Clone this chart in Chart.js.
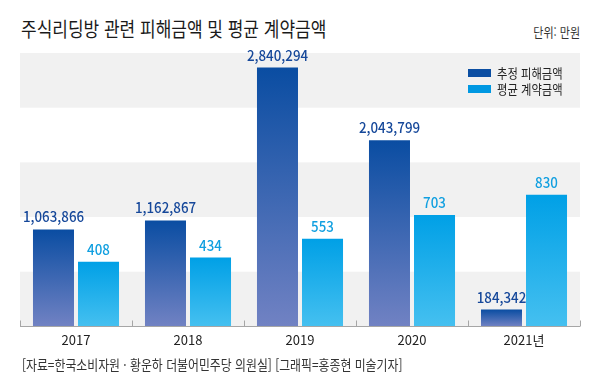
<!DOCTYPE html>
<html lang="ko">
<head>
<meta charset="utf-8">
<script src="https://cdn.jsdelivr.net/npm/chart.js@4.4.1/dist/chart.umd.min.js"></script>
<style>
	html, body { margin: 0; padding: 0; background: #fff; }
	body { width: 600px; height: 390px; position: relative; overflow: hidden; font-family: "Noto Sans CJK KR", "Noto Sans", sans-serif; color: #222; }
	#chart { position: absolute; left: 0; top: 0; }
	.squeeze { position: absolute; white-space: nowrap; transform: scaleX(0.85); }
	.title { left: 21px; top: 14px; font-size: 20px; font-weight: 400; transform-origin: left center; color: #1a1a1a; }
	.unit { right: 20px; top: 22px; font-size: 13px; transform-origin: right center; color: #333; }
	.source { left: 22px; top: 354px; font-size: 13.5px; transform: scaleX(0.88); transform-origin: left center; color: #333; }
	.legend { position: absolute; left: 468px; top: 65px; font-size: 13px; line-height: 16px; color: #222; }
	.legend div { display: flex; align-items: center; }
	.legend i { display: inline-block; width: 23px; height: 8px; margin-right: 6px; }
	.legend span { display: inline-block; transform: scaleX(0.87); transform-origin: left center; }
</style>
</head>
<body>
<div class="squeeze title">주식리딩방 관련 피해금액 및 평균 계약금액</div>
<div class="squeeze unit">단위: 만원</div>
<canvas id="chart" width="600" height="390"></canvas>
<div class="legend" id="legend"></div>
<div class="squeeze source">[자료=한국소비자원 · 황운하 더불어민주당 의원실] [그래픽=홍종현 미술기자]</div>

<script>
const years = ['2017', '2018', '2019', '2020', '2021년'];
const damage = [1063866, 1162867, 2840294, 2043799, 184342];
const contract = [408, 434, 553, 703, 830];
const seriesNames = ['추정 피해금액', '평균 계약금액'];

const damageMax = 3000000;
const contractMax = 1725;
const bandCount = 5;

const palette = {
	dark: { top: '#0a4da2', bottom: '#7182c3', label: '#16489a', swatch: '#0b4ea2' },
	light: { top: '#00a0e6', bottom: '#45c0f0', label: '#109fe0', swatch: '#0098e2' },
};

function barGradient(tone) {
	return (ctx) => {
		const chart = ctx.chart;
		if (!chart.chartArea || ctx.type !== 'data') {
			return tone.top;
		}
		const scale = chart.scales[ctx.dataset.yAxisID];
		const top = scale.getPixelForValue(ctx.raw);
		const bottom = scale.getPixelForValue(0);
		const gradient = chart.ctx.createLinearGradient(0, top, 0, bottom);
		gradient.addColorStop(0, tone.top);
		gradient.addColorStop(1, tone.bottom);
		return gradient;
	};
}

const bandsPlugin = {
	id: 'bands',
	beforeDatasetsDraw(chart) {
		const { ctx, chartArea } = chart;
		const scale = chart.scales.y;
		const step = scale.max / bandCount;
		ctx.save();
		ctx.fillStyle = '#f1f1f1';
		for (let k = 0; k < bandCount; k += 2) {
			const top = scale.getPixelForValue((k + 1) * step);
			const bottom = scale.getPixelForValue(k * step);
			ctx.fillRect(chartArea.left, top, chartArea.right - chartArea.left, bottom - top);
		}
		ctx.restore();
	},
};

const axisPlugin = {
	id: 'baseAxis',
	afterDatasetsDraw(chart) {
		const { ctx, chartArea } = chart;
		const xs = chart.scales.x;
		const y = Math.round(chart.scales.y.getPixelForValue(0)) + 0.5;
		const slot = (xs.right - xs.left) / years.length;
		ctx.save();
		ctx.strokeStyle = '#a6a6a6';
		ctx.lineWidth = 1;
		ctx.beginPath();
		ctx.moveTo(chartArea.left, y);
		ctx.lineTo(chartArea.right, y);
		for (let i = 0; i <= years.length; i += 1) {
			const x = Math.round(xs.left + slot * i) + 0.5;
			ctx.moveTo(x, y);
			ctx.lineTo(x, y - 6);
		}
		ctx.stroke();
		ctx.restore();
	},
};

const valueLabelPlugin = {
	id: 'valueLabels',
	afterDatasetsDraw(chart) {
		const { ctx } = chart;
		ctx.save();
		ctx.font = '500 14.5px "Noto Sans CJK KR", "Noto Sans", sans-serif';
		ctx.textAlign = 'center';
		ctx.textBaseline = 'alphabetic';
		chart.data.datasets.forEach((dataset, di) => {
			const meta = chart.getDatasetMeta(di);
			ctx.fillStyle = dataset.labelColor;
			meta.data.forEach((bar, i) => {
				const text = dataset.data[i].toLocaleString('en-US');
				ctx.save();
				ctx.translate(bar.x, bar.y - 7);
				ctx.scale(0.92, 1);
				ctx.fillText(text, 0, 0);
				ctx.restore();
			});
		});
		ctx.restore();
	},
};

const chart = new Chart(document.getElementById('chart'), {
	type: 'bar',
	data: {
		labels: years,
		datasets: [
			{
				label: seriesNames[0],
				data: damage,
				yAxisID: 'y',
				backgroundColor: barGradient(palette.dark),
				labelColor: palette.dark.label,
				categoryPercentage: 0.804,
				barPercentage: 0.911,
			},
			{
				label: seriesNames[1],
				data: contract,
				yAxisID: 'y1',
				backgroundColor: barGradient(palette.light),
				labelColor: palette.light.label,
				categoryPercentage: 0.804,
				barPercentage: 0.911,
			},
		],
	},
	options: {
		responsive: false,
		animation: false,
		layout: { padding: { left: 20, right: 20, top: 53, bottom: 36 } },
		plugins: {
			legend: { display: false },
			tooltip: { enabled: false },
		},
		scales: {
			x: {
				grid: { display: false, drawTicks: false },
				border: { display: false },
				ticks: {
					color: '#222',
					padding: 6,
					font: { family: '"Noto Sans CJK KR", "Noto Sans", sans-serif', size: 13 },
				},
			},
			y: { display: false, min: 0, max: damageMax },
			y1: { display: false, min: 0, max: contractMax },
		},
	},
	plugins: [bandsPlugin, axisPlugin, valueLabelPlugin],
});

const legend = document.getElementById('legend');
[palette.dark, palette.light].forEach((tone, i) => {
	const row = document.createElement('div');
	const swatch = document.createElement('i');
	swatch.style.background = tone.swatch;
	const name = document.createElement('span');
	name.textContent = seriesNames[i];
	row.append(swatch, name);
	legend.append(row);
});
</script>
</body>
</html>
